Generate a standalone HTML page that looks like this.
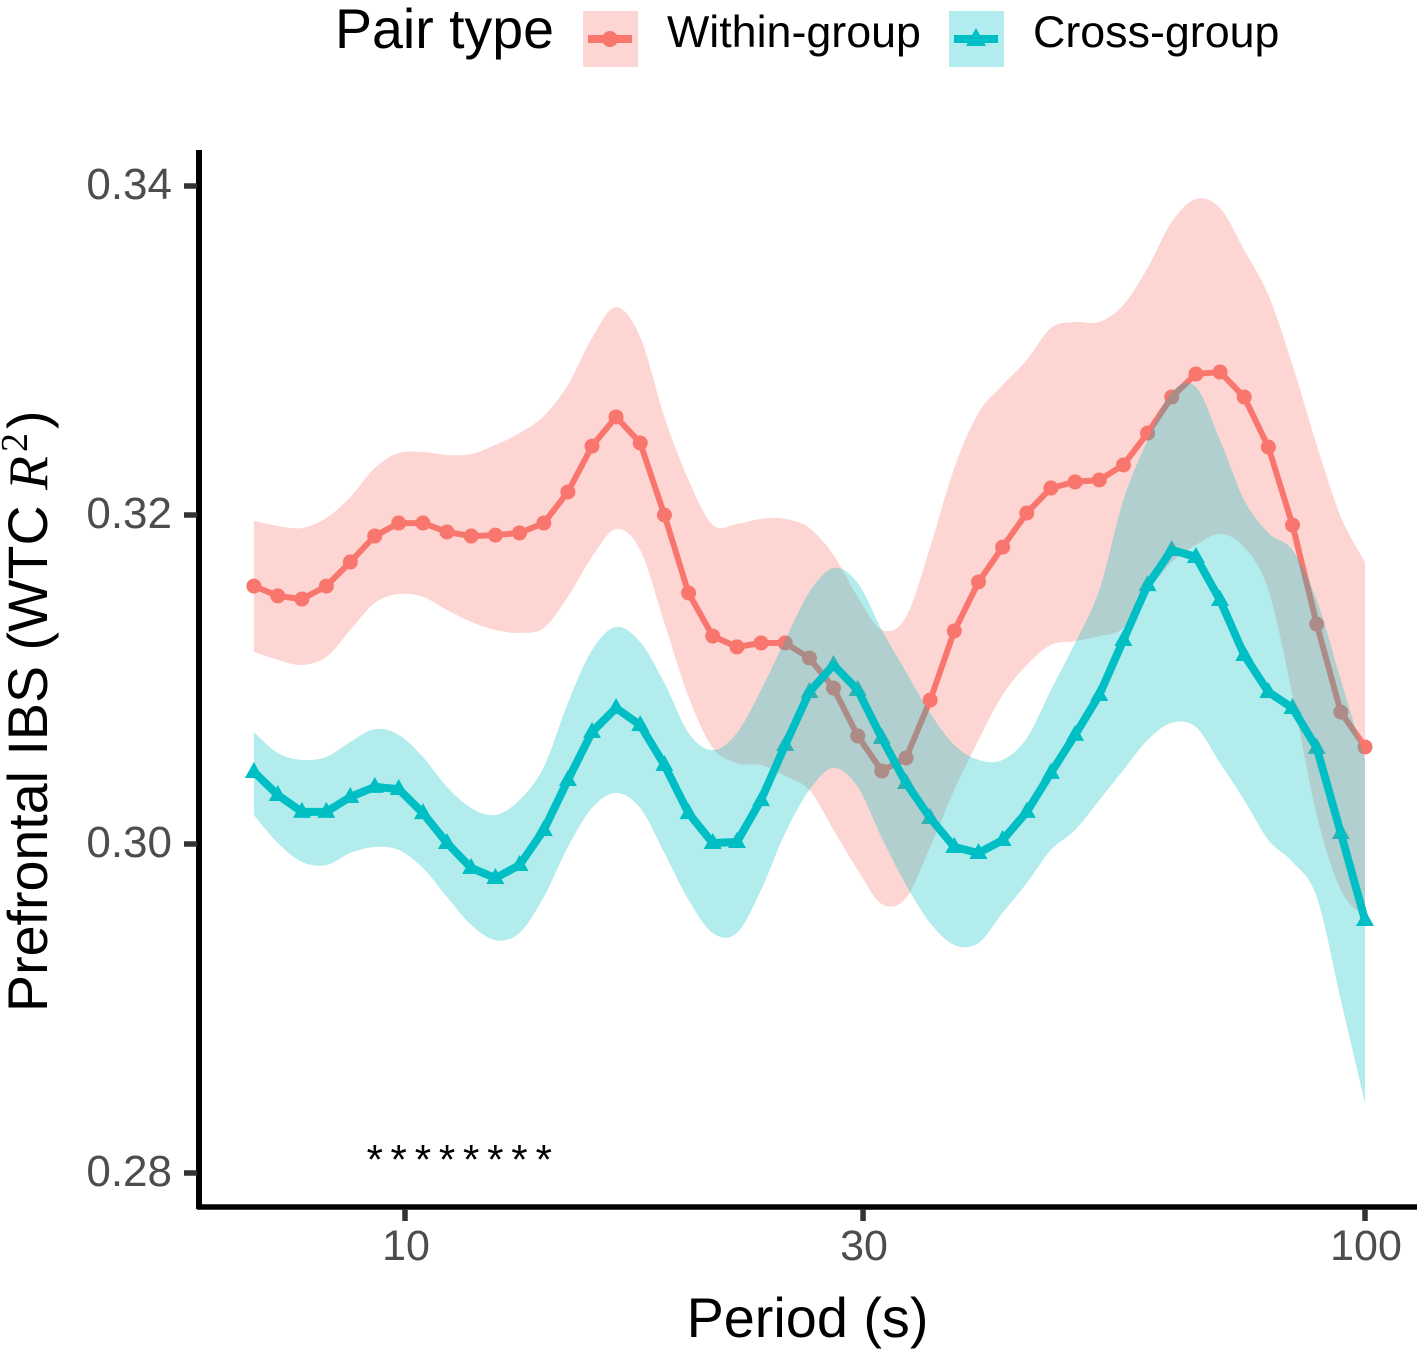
<!DOCTYPE html>
<html lang="en">
<head>
<meta charset="utf-8">
<title>Prefrontal IBS by period</title>
<style>
html,body{margin:0;padding:0;background:#fff;}
body{width:1417px;height:1355px;overflow:hidden;}
svg{display:block;font-family:"Liberation Sans",Arial,sans-serif;}
</style>
</head>
<body>
<svg id="chart" xmlns="http://www.w3.org/2000/svg" width="1417" height="1355" viewBox="0 0 1417 1355">
  <rect x="0" y="0" width="1417" height="1355" fill="#ffffff"/>
  <g id="points-layer"></g>
  <g id="red-band-layer"></g>
  <g id="red-line-layer"></g>
  <g id="teal-band-layer"></g>
  <g id="teal-line-layer"></g>
  <g id="axes-layer"></g>
  <g id="stars-layer"></g>

  <g>
    <text x="335" y="48" font-size="55.5" fill="#000">Pair type</text>
    <g>
      <rect x="583" y="11" width="55" height="56" fill="#FDD6D3"/>
      <line x1="588" x2="632" y1="39" y2="39" stroke="#F8766D" stroke-width="8"/>
      <circle cx="610" cy="39" r="8" fill="#F8766D"/>
      <text x="667" y="47" font-size="44.8" fill="#000">Within-group</text>
    </g>
    <g>
      <rect x="949" y="11" width="55" height="56" fill="#B3ECEE"/>
      <line x1="954" x2="998" y1="39" y2="39" stroke="#00BFC4" stroke-width="8"/>
      <polygon points="976,28 986,46 966,46" fill="#00BFC4"/>
      <text x="1033" y="47" font-size="44.8" fill="#000">Cross-group</text>
    </g>
  </g>

  <text x="807.5" y="1337" font-size="55.8" text-anchor="middle" fill="#000">Period (s)</text>
  <g transform="translate(47,1012) rotate(-90)">
    <text font-size="55.6" fill="#000" x="0" y="0">Prefrontal IBS (WTC <tspan font-family="'Liberation Serif',serif" font-style="italic">R</tspan><tspan font-family="'Liberation Serif',serif" font-size="38" dy="-20" dx="4">2</tspan><tspan dy="20" dx="4">)</tspan></text>
  </g>
</svg>

<script>
const periods = [6.96,7.37,7.81,8.28,8.77,9.30,9.85,10.44,11.06,11.72,12.42,13.16,13.95,14.78,15.66,16.59,17.58,18.63,19.74,20.92,22.17,23.49,24.89,26.38,27.95,29.62,31.38,33.26,35.24,37.34,39.57,41.93,44.43,47.08,49.89,52.87,56.02,59.36,62.90,66.66,70.63,74.85,79.31,84.04,89.06,94.37,100];

const withinMean = [.31568,.31508,.31489,.31568,.31714,.31872,.31951,.31951,.31897,.31872,.31878,.31891,.31951,.32140,.32419,.32596,.32438,.32000,.31526,.31264,.31198,.31222,.31222,.31131,.30948,.30657,.30444,.30523,.30875,.31295,.31593,.31805,.32012,.32164,.32201,.32213,.32304,.32498,.32717,.32857,.32869,.32717,.32413,.31939,.31337,.30802,.30590];
const withinUpper = [.31964,.31933,.31921,.31982,.32109,.32286,.32377,.32383,.32365,.32371,.32426,.32498,.32602,.32790,.33076,.33264,.33082,.32596,.32213,.31939,.31945,.31976,.31976,.31921,.31757,.31502,.31301,.31380,.31805,.32286,.32620,.32790,.32942,.33137,.33173,.33173,.33277,.33502,.33781,.33921,.33866,.33611,.33337,.32912,.32426,.31988,.31714];
const withinLower = [.31167,.31119,.31088,.31137,.31301,.31465,.31520,.31502,.31422,.31350,.31301,.31283,.31313,.31502,.31745,.31915,.31787,.31343,.30894,.30584,.30492,.30480,.30413,.30328,.30085,.29842,.29635,.29672,.29982,.30328,.30632,.30906,.31088,.31210,.31234,.31264,.31313,.31532,.31714,.31818,.31885,.31805,.31544,.30906,.30176,.29720,.29556];

const crossMean = [.30438,.30298,.30195,.30195,.30286,.30347,.30334,.30188,.30006,.29854,.29793,.29872,.30085,.30389,.30681,.30827,.30723,.30480,.30188,.30006,.30012,.30267,.30602,.30924,.31088,.30936,.30644,.30371,.30158,.29982,.29945,.30024,.30195,.30432,.30663,.30906,.31240,.31574,.31787,.31745,.31483,.31149,.30924,.30827,.30584,.30067,.29538];
const crossUpper = [.30681,.30553,.30511,.30529,.30620,.30699,.30663,.30529,.30347,.30219,.30176,.30267,.30468,.30857,.31179,.31319,.31228,.30979,.30675,.30571,.30675,.30936,.31240,.31532,.31678,.31587,.31301,.31046,.30796,.30602,.30511,.30511,.30644,.30936,.31222,.31544,.32091,.32456,.32748,.32778,.32456,.32091,.31891,.31787,.31483,.30997,.30511];
const crossLower = [.30176,.30006,.29891,.29872,.29945,.29982,.29964,.29854,.29678,.29508,.29416,.29459,.29678,.29982,.30219,.30310,.30219,.29945,.29660,.29459,.29459,.29720,.30067,.30328,.30462,.30347,.30036,.29751,.29520,.29386,.29398,.29581,.29763,.29964,.30085,.30267,.30450,.30632,.30736,.30711,.30492,.30267,.30024,.29891,.29678,.29052,.28426];

const yTicks = [0.28, 0.30, 0.32, 0.34];
const yTickLabels = ["0.28", "0.30", "0.32", "0.34"];
const xTicks = [10, 30, 100];
const xTickLabels = ["10", "30", "100"];
const significantPeriods = [9.30,9.85,10.44,11.06,11.72,12.42,13.16,13.95];
const significanceLevel = 0.2814;

const SVG_NS = "http://www.w3.org/2000/svg";
function xScale(period) { return 405 + 960 * (Math.log10(period) - 1); }
function yScale(value) { return 844 - (value - 0.30) * 16450; }
function layer(id) { return document.getElementById(id); }
function make(tag) { return document.createElementNS(SVG_NS, tag); }

function screenPoints(values) {
  return periods.map((p, i) => [xScale(p), yScale(values[i])]);
}
function curveSegments(pts) {
  let d = "";
  for (let i = 0; i < pts.length - 1; i++) {
    const p0 = pts[Math.max(i - 1, 0)];
    const p1 = pts[i];
    const p2 = pts[i + 1];
    const p3 = pts[Math.min(i + 2, pts.length - 1)];
    const c1x = p1[0] + (p2[0] - p0[0]) / 6;
    const c1y = p1[1] + (p2[1] - p0[1]) / 6;
    const c2x = p2[0] - (p3[0] - p1[0]) / 6;
    const c2y = p2[1] - (p3[1] - p1[1]) / 6;
    d += " C" + c1x.toFixed(1) + " " + c1y.toFixed(1) + " " + c2x.toFixed(1) + " " + c2y.toFixed(1) + " " + p2[0].toFixed(1) + " " + p2[1].toFixed(1);
  }
  return d;
}
function bandPath(upper, lower) {
  const top = screenPoints(upper);
  const bottom = screenPoints(lower).reverse();
  return "M" + top[0][0].toFixed(1) + " " + top[0][1].toFixed(1) + curveSegments(top) +
    " L" + bottom[0][0].toFixed(1) + " " + bottom[0][1].toFixed(1) + curveSegments(bottom) + " Z";
}
function linePoints(values) {
  return periods.map((p, i) => xScale(p).toFixed(1) + "," + yScale(values[i]).toFixed(1)).join(" ");
}

withinMean.forEach(function (v, i) {
  const c = make("circle");
  
  
  c.setAttribute("cx", xScale(periods[i]));
  c.setAttribute("cy", yScale(v));
  c.setAttribute("r", 7.5);
  c.setAttribute("fill", "#F8766D");
  layer("points-layer").appendChild(c);
});
crossMean.forEach(function (v, i) {
  const x = xScale(periods[i]);
  const y = yScale(v);
  const t = make("polygon");
  
  
  t.setAttribute("points", x + "," + (y - 10) + " " + (x + 9) + "," + (y + 6) + " " + (x - 9) + "," + (y + 6));
  t.setAttribute("fill", "#00BFC4");
  layer("points-layer").appendChild(t);
});

const redBand = make("path");


redBand.setAttribute("d", bandPath(withinUpper, withinLower));
redBand.setAttribute("fill", "#F8766D");
redBand.setAttribute("fill-opacity", "0.3");
layer("red-band-layer").appendChild(redBand);

const redLine = make("polyline");


redLine.setAttribute("points", linePoints(withinMean));
redLine.setAttribute("fill", "none");
redLine.setAttribute("stroke", "#F8766D");
redLine.setAttribute("stroke-width", "6");
redLine.setAttribute("stroke-linejoin", "round");
layer("red-line-layer").appendChild(redLine);

const tealBand = make("path");


tealBand.setAttribute("d", bandPath(crossUpper, crossLower));
tealBand.setAttribute("fill", "#00BFC4");
tealBand.setAttribute("fill-opacity", "0.3");
layer("teal-band-layer").appendChild(tealBand);

const tealLine = make("polyline");


tealLine.setAttribute("points", linePoints(crossMean));
tealLine.setAttribute("fill", "none");
tealLine.setAttribute("stroke", "#00BFC4");
tealLine.setAttribute("stroke-width", "8");
tealLine.setAttribute("stroke-linejoin", "round");
layer("teal-line-layer").appendChild(tealLine);

const yAxis = make("line");


yAxis.setAttribute("x1", 199);
yAxis.setAttribute("x2", 199);
yAxis.setAttribute("y1", 150);
yAxis.setAttribute("y2", 1209);
yAxis.setAttribute("stroke", "#000");
yAxis.setAttribute("stroke-width", 6);
layer("axes-layer").appendChild(yAxis);

const xAxis = make("line");


xAxis.setAttribute("x1", 197);
xAxis.setAttribute("x2", 1417);
xAxis.setAttribute("y1", 1207);
xAxis.setAttribute("y2", 1207);
xAxis.setAttribute("stroke", "#000");
xAxis.setAttribute("stroke-width", 5.5);
layer("axes-layer").appendChild(xAxis);

yTicks.forEach(function (v, i) {
  const y = yScale(v);
  const tick = make("line");
  
  
  tick.setAttribute("x1", 184);
  tick.setAttribute("x2", 197);
  tick.setAttribute("y1", y);
  tick.setAttribute("y2", y);
  tick.setAttribute("stroke", "#333333");
  tick.setAttribute("stroke-width", 5.5);
  layer("axes-layer").appendChild(tick);
  const label = make("text");
  
  
  label.setAttribute("x", 172);
  label.setAttribute("y", y + 13);
  label.setAttribute("text-anchor", "end");
  label.setAttribute("font-size", 44);
  label.setAttribute("fill", "#4D4D4D");
  label.textContent = yTickLabels[i];
  layer("axes-layer").appendChild(label);
});

xTicks.forEach(function (p, i) {
  const x = xScale(p);
  const tick = make("line");
  
  
  tick.setAttribute("x1", x);
  tick.setAttribute("x2", x);
  tick.setAttribute("y1", 1209);
  tick.setAttribute("y2", 1221);
  tick.setAttribute("stroke", "#333333");
  tick.setAttribute("stroke-width", 5.5);
  layer("axes-layer").appendChild(tick);
  const label = make("text");
  
  
  label.setAttribute("x", x + 1);
  label.setAttribute("y", 1260);
  label.setAttribute("text-anchor", "middle");
  label.setAttribute("font-size", 43);
  label.setAttribute("fill", "#4D4D4D");
  label.textContent = xTickLabels[i];
  layer("axes-layer").appendChild(label);
});

significantPeriods.forEach(function (p) {
  const star = make("text");
  
  
  star.setAttribute("x", xScale(p));
  star.setAttribute("y", yScale(significanceLevel) + 24);
  star.setAttribute("text-anchor", "middle");
  star.setAttribute("font-size", 42);
  star.setAttribute("fill", "#000");
  star.textContent = "*";
  layer("stars-layer").appendChild(star);
});
</script>
</body>
</html>
